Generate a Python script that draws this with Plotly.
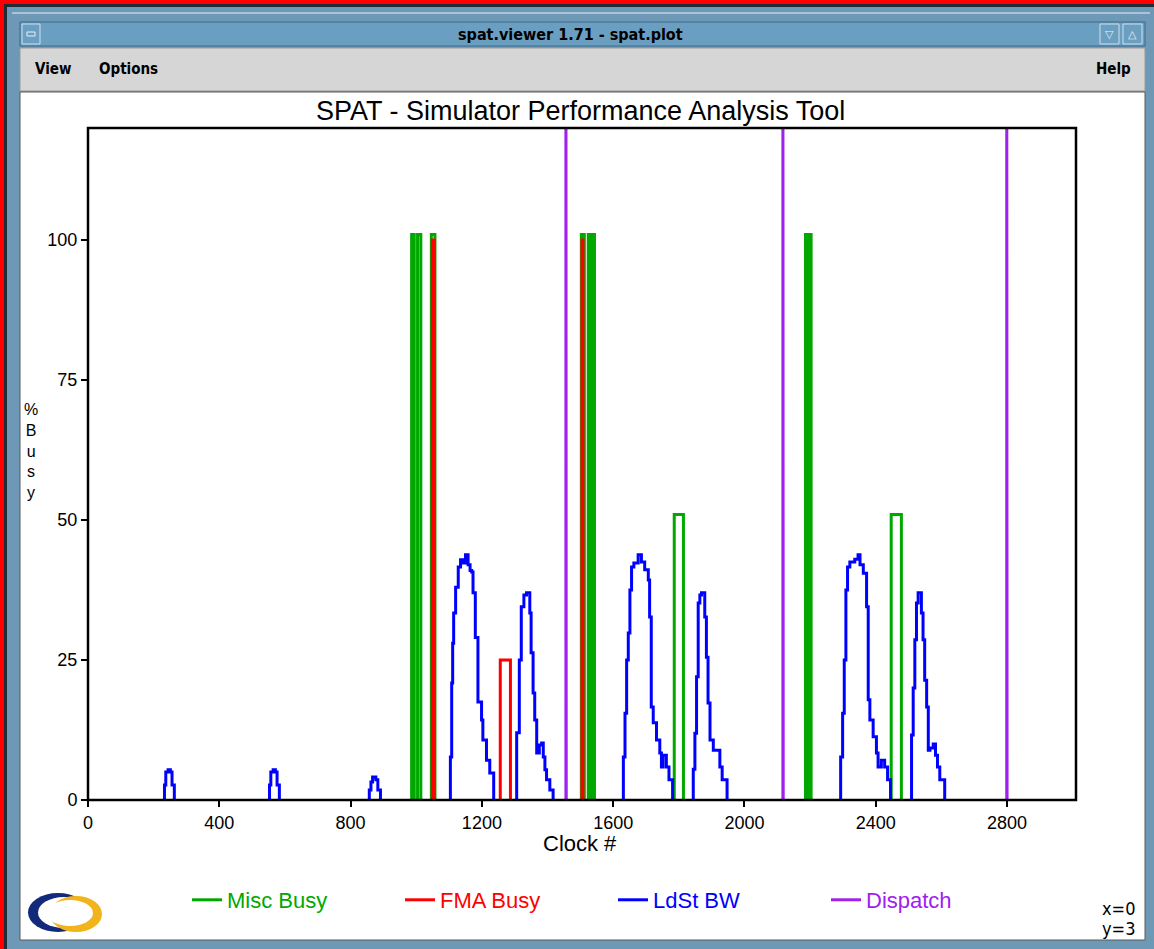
import plotly.graph_objects as go

# ---------------- data ----------------
x_ticks = [0, 400, 800, 1200, 1600, 2000, 2400, 2800]
y_ticks = [0, 25, 50, 75, 100]

misc_clock = [0, 986, 994, 1004, 1014, 1046, 1057, 1503, 1512, 1524, 1532, 1535, 1543,
              1786, 1814, 2186, 2193, 2196, 2203, 2447, 2478, 3010]
misc_busy = [0, 101, 0, 101, 0, 101, 0, 101, 0, 101, 0, 101, 0,
             51, 0, 101, 0, 101, 0, 51, 0, 0]

fma_clock = [0, 1049, 1055, 1256, 1287, 1505, 1508, 3010]
fma_busy = [0, 100, 0, 25, 0, 100, 0, 0]

ldst_clock = [0,
              233, 237, 244, 251, 256, 263,
              553, 557, 564, 571, 576, 583,
              857, 862, 867, 877, 883, 891,
              1104, 1108, 1111, 1114, 1120, 1128, 1135, 1142, 1150, 1158, 1164, 1169, 1173, 1180, 1188, 1199, 1203, 1214, 1224, 1236,
              1306, 1314, 1320, 1328, 1336, 1346, 1350, 1356, 1361, 1367, 1375, 1382, 1387, 1392, 1397, 1407, 1417,
              1631, 1636, 1641, 1646, 1651, 1656, 1663, 1676, 1686, 1696, 1707, 1711, 1716, 1722, 1732, 1742, 1747, 1752, 1762, 1770, 1781,
              1844, 1849, 1854, 1859, 1864, 1869, 1879, 1884, 1889, 1895, 1905, 1925, 1932, 1947,
              2293, 2299, 2304, 2309, 2314, 2321, 2336, 2346, 2352, 2362, 2372, 2377, 2382, 2392, 2402, 2407, 2417, 2427, 2436, 2445,
              2509, 2514, 2519, 2524, 2529, 2539, 2544, 2549, 2555, 2560, 2565, 2575, 2582, 2588, 2595, 2610,
              3010]
ldst_busy = [0,
             2.7, 5, 5.4, 5, 2.7, 0,
             2.7, 5, 5.4, 5, 2.7, 0,
             1.8, 3.2, 4.1, 3.6, 1.8, 0,
             7.7, 20.9, 28, 33.4, 38, 41.6, 42.9, 42.3, 43.8, 42, 41, 40.7, 37, 29, 17.5, 14.3, 10.7, 7.1, 4.8, 0,
             12, 25, 34.5, 36.6, 37, 33.4, 26.3, 19.1, 14.3, 8.4, 9.8, 10.2, 7.7, 5.4, 3.6, 1.8, 0,
             7.7, 15.5, 25, 29.8, 37.5, 41.6, 42.3, 43.8, 42.5, 41.1, 39.3, 32.7, 16.6, 13.8, 10.7, 8.4, 5.9, 8.0, 5.9, 3.6, 0,
             5.5, 11.9, 22, 35.2, 36.6, 37, 32.7, 25.5, 17.3, 10.7, 8.9, 5.9, 3.6, 0,
             7.7, 15.5, 25, 37.5, 41.6, 42.5, 43, 43.8, 42, 40.5, 34.5, 17.9, 14.3, 11.3, 8.4, 5.9, 7.1, 5.9, 3.6, 0,
             11.6, 20, 28.6, 35.2, 37, 33.4, 28.6, 21.4, 16.6, 8.9, 9.3, 10, 8.0, 5.9, 3.6, 0,
             0]

dispatch_clock = [0, 1456, 1457, 2117, 2118, 2799, 2800, 3010]
dispatch_busy = [0, 150, 0, 150, 0, 150, 0, 0]

assert len(ldst_clock) == len(ldst_busy)
assert len(misc_clock) == len(misc_busy)

series = [
    ("Misc Busy", misc_clock, misc_busy, "#00a800"),
    ("FMA Busy", fma_clock, fma_busy, "#ff0000"),
    ("LdSt BW", ldst_clock, ldst_busy, "#0000ff"),
    ("Dispatch", dispatch_clock, dispatch_busy, "#a020f0"),
]


def step_path(xs, ys):
    """Step (value holds until next change) path; runs that sit at 0 are left undrawn."""
    ox, oy = [], []
    for i in range(1, len(xs)):
        c, prev, v = xs[i], ys[i - 1], ys[i]
        if prev == 0 and ox:
            ox.append(None)
            oy.append(None)
        ox += [c, c]
        oy += [prev, v]
    return ox, oy


# ---------------- geometry helpers ----------------
W, H = 1154, 949
L, R, T, B = 88, 1076, 128, 800


def px(x):
    return (x - L) / (R - L)


def py(y):
    return (B - y) / (B - T)


SANS = "Liberation Sans, Arial, Helvetica, sans-serif"
NARROW = "Liberation Sans Narrow, DejaVu Sans Condensed, Arial Narrow, sans-serif"

fig = go.Figure()
for name, xs, ys, col in series:
    sx, sy = step_path(xs, ys)
    fig.add_trace(go.Scatter(
        x=sx, y=sy, mode="lines", line=dict(color=col, width=3), connectgaps=False,
        name=f"<span style='color:{col}'>{name}</span>", hoverinfo="skip"))

shapes = []


def rect(x0, y0, x1, y1, fill, line=None, lw=0, layer="below"):
    shapes.append(dict(type="rect", xref="paper", yref="paper",
                       x0=px(x0), x1=px(x1), y0=py(y1), y1=py(y0),
                       fillcolor=fill, line=dict(color=line or fill, width=lw), layer=layer))


def ellipse(x0, y0, x1, y1, fill):
    shapes.append(dict(type="circle", xref="paper", yref="paper",
                       x0=px(x0), x1=px(x1), y0=py(y1), y1=py(y0),
                       fillcolor=fill, line=dict(width=0), layer="below"))


# window chrome
rect(0, 0, W, 4, "#ff0000")
rect(0, 0, 4, H, "#ff0000")
rect(4, 4, W, 7, "#1c2c38")
rect(4, 4, 7, H, "#1c2c38")
rect(12, 12, W - 4, 14, "#a9c4d6")
rect(20, 22, 1145, 46, "#6a9fc1", "#3f6b8a", 1)
rect(22, 24, 40, 44, "#6a9fc1", "#cfe0ec", 1)
rect(27, 32, 35, 36, "#6a9fc1", "#e8f0f5", 1)
rect(1100, 24, 1119, 44, "#6a9fc1", "#cfe0ec", 1)
rect(1123, 24, 1142, 44, "#6a9fc1", "#cfe0ec", 1)
rect(20, 48, 1145, 91, "#d6d6d6", "#9a9a9a", 1)
rect(20, 92, 1145, 940, "#ffffff", "#5a5a5a", 1)

# logo
ellipse(28, 893, 88, 932, "#13297a")
ellipse(38, 897, 90, 928, "#ffffff")
ellipse(50, 896, 102, 932, "#f2b41c")
ellipse(47, 900, 93, 926, "#ffffff")

# plot frame on top of traces
shapes.append(dict(type="rect", xref="paper", yref="paper", x0=0, x1=1, y0=0, y1=1,
                   line=dict(color="black", width=2.5), layer="above"))

ann = []


def text(x, y, s, size, color="black", family=SANS, xanchor="center", bold=False):
    if bold:
        s = f"<b>{s}</b>"
    ann.append(dict(x=px(x), y=py(y), xref="paper", yref="paper", text=s, showarrow=False,
                    xanchor=xanchor, yanchor="middle", font=dict(size=size, color=color, family=family)))


text(570, 34, "spat.viewer 1.71 - spat.plot", 16, "#000000", NARROW, bold=True)
text(1109.5, 34, "▽", 11, "#e8f0f5")
text(1132.5, 34, "△", 11, "#e8f0f5")
text(33, 69, "View", 15, "#000000", NARROW, "left", True)
text(97, 69, "Options", 15, "#000000", NARROW, "left", True)
text(1133, 69, "Help", 15, "#000000", NARROW, "right", True)
text(580, 111, "SPAT - Simulator Performance Analysis Tool", 27)
text(580, 843, "Clock #", 22)
text(31, 451, "%<br>B<br>u<br>s<br>y", 16)
text(1137, 908, "x=0", 18, "#000000", NARROW, "right")
text(1137, 928, "y=3", 18, "#000000", NARROW, "right")

fig.update_layout(
    width=W, height=H, autosize=False,
    margin=dict(l=L, r=W - R, t=T, b=H - B, pad=0),
    paper_bgcolor="#6d98b6", plot_bgcolor="#ffffff",
    shapes=shapes, annotations=ann,
    showlegend=True,
    legend=dict(orientation="h", x=px(187), y=py(900), xanchor="left", yanchor="middle",
                font=dict(size=22, family=SANS), entrywidth=168, entrywidthmode="pixels",
                bgcolor="rgba(0,0,0,0)", borderwidth=0, itemclick=False, itemdoubleclick=False),
    xaxis=dict(range=[0, 3010], tickvals=x_ticks, ticktext=[str(v) for v in x_ticks],
               ticks="outside", ticklen=6, tickwidth=2, tickcolor="black",
               showgrid=False, zeroline=False, showline=False,
               tickfont=dict(size=18, family=SANS, color="black"), fixedrange=True),
    yaxis=dict(range=[0, 120], tickvals=y_ticks, ticktext=[str(v) for v in y_ticks],
               ticks="outside", ticklen=6, tickwidth=2, tickcolor="black",
               showgrid=False, zeroline=False, showline=False,
               tickfont=dict(size=18, family=SANS, color="black"), fixedrange=True),
)

fig.write_html("out.html", config={"displayModeBar": False},
               post_script="document.body.style.margin='0px';document.body.style.overflow='hidden';")
